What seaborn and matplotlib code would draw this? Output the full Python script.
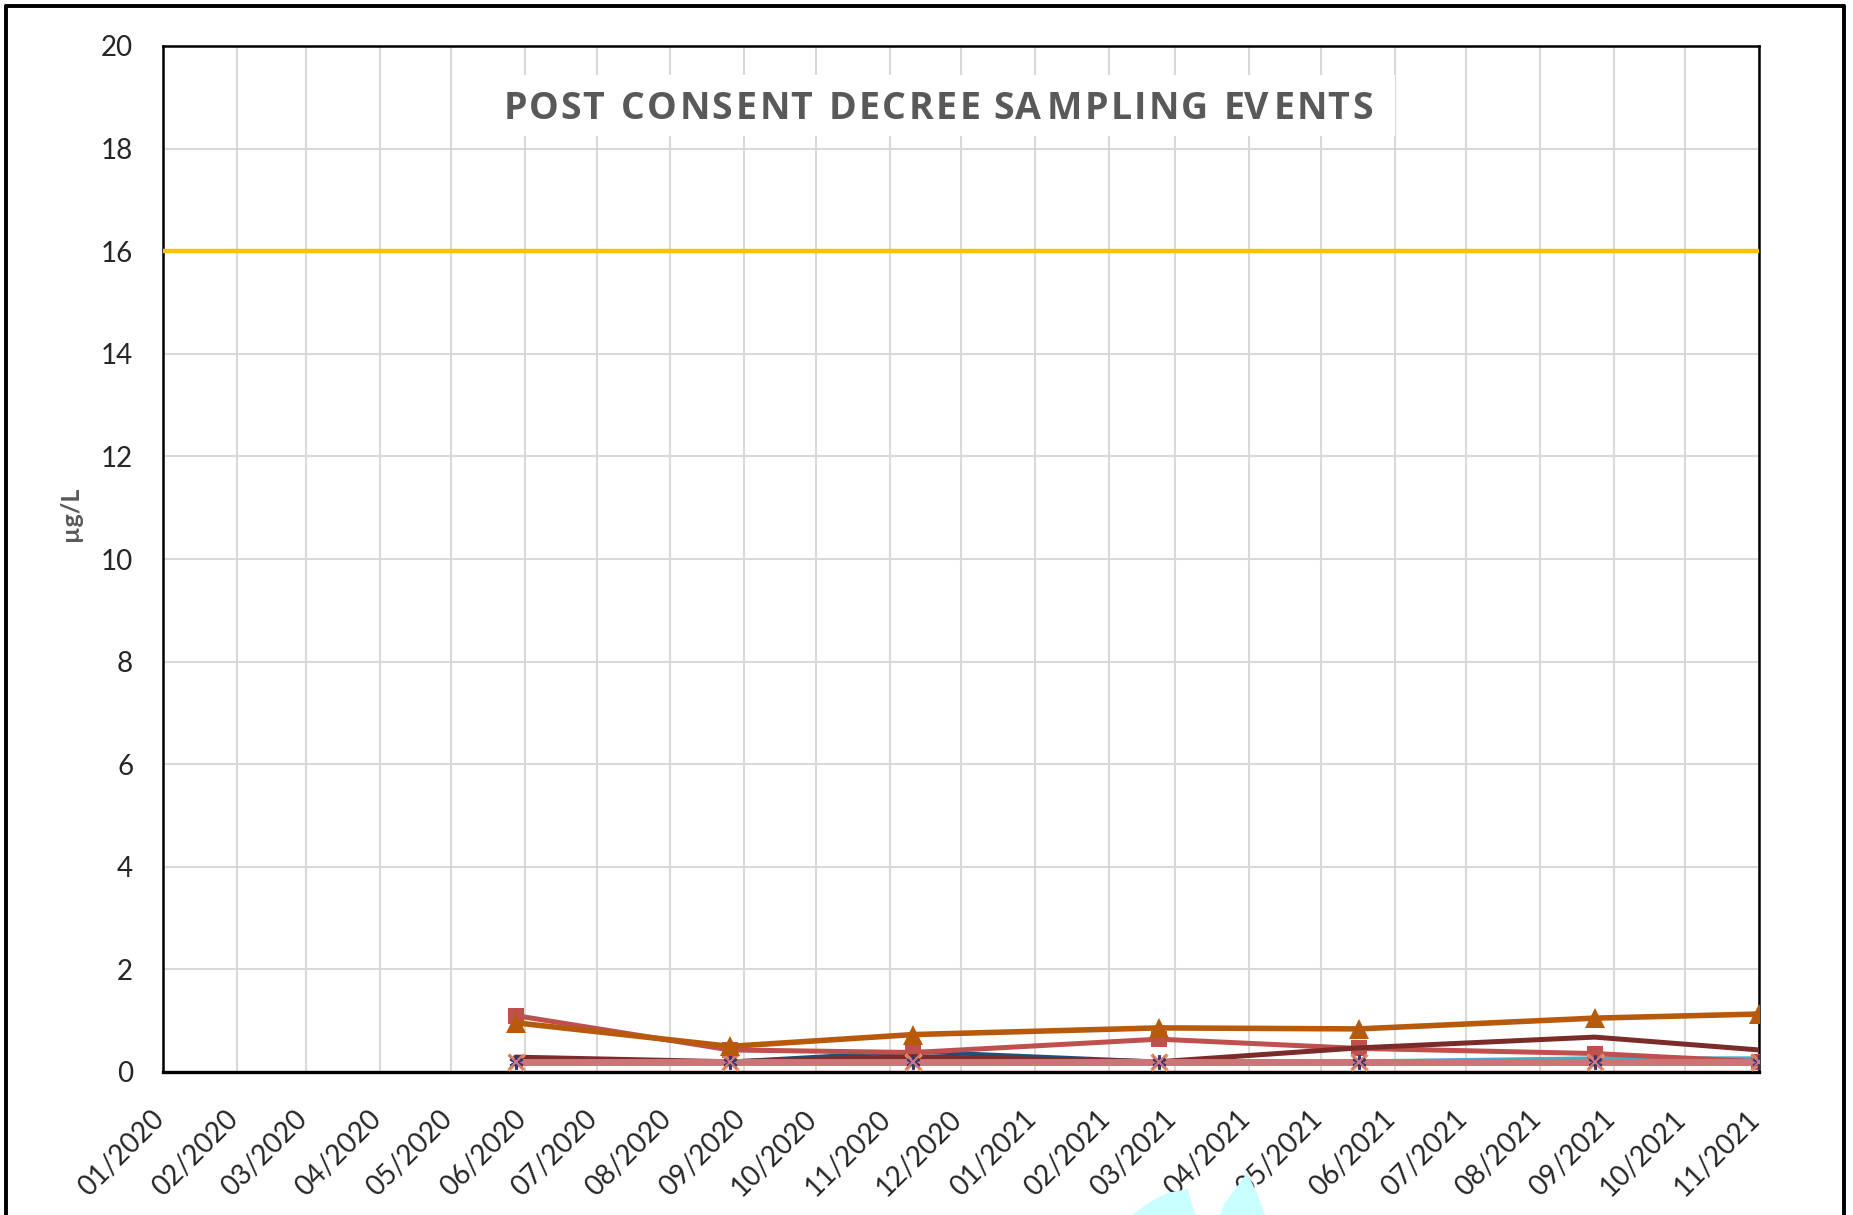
import pandas as pd
import numpy as np
import matplotlib
matplotlib.use("Agg")
import matplotlib.pyplot as plt
import matplotlib.dates as mdates
import matplotlib.transforms as mtransforms
from matplotlib import font_manager
from matplotlib.ft2font import FT2Font
from matplotlib.patches import Polygon, Rectangle
from matplotlib.lines import Line2D
import seaborn as sns


# sampling events
sample_dates = pd.to_datetime([
    "2020-05-28", "2020-08-26", "2020-11-11", "2021-02-22",
    "2021-05-17", "2021-08-24", "2021-11-01",
])

triangle_vals = [0.96, 0.50, 0.73, 0.86, 0.84, 1.05, 1.13]
square_vals = [1.10, 0.43, 0.38, 0.64, 0.46, 0.36, 0.20]
darkred_vals = [0.29, 0.20, 0.30, 0.20, 0.47, 0.68, 0.43]
darkblue_vals = [0.20, 0.20, 0.40, 0.20, 0.20, 0.20, 0.20]
lightblue_vals = [0.20, 0.20, 0.20, 0.20, 0.20, 0.26, 0.26]
star_vals = [0.20, 0.20, 0.20, 0.20, 0.20, 0.20, 0.20]
cross_vals = [0.20, 0.20, 0.20, 0.20, 0.20, 0.20, 0.20]
pink_vals = [0.20, 0.20, 0.20, 0.20, 0.20, 0.20, 0.20]

cleanup_level = 16
title_text = "POST CONSENT DECREE SAMPLING EVENTS"
y_label = "µg/L"

x_start = pd.Timestamp("2020-01-01")
x_end = pd.Timestamp("2021-11-01")


sns.set_style("white")
plt.rcParams["font.family"] = ["Lato", "DejaVu Sans"]

W, H = 1853, 1215
fig = plt.figure(figsize=(W / 100, H / 100), dpi=100)
ax = fig.add_axes([163 / W, 1 - 1072 / H, (1759 - 163) / W, (1072 - 46) / H])


def draw(vals, color, lw, z, marker=None, ms=0, mew=0):
    # seaborn puts a white edge on markers by default, so set it explicitly
    sns.lineplot(x=sample_dates, y=vals, ax=ax, color=color, linewidth=lw,
                 marker=marker, markersize=ms, markeredgewidth=mew,
                 markeredgecolor=color, zorder=z)


# series, drawn bottom to top
draw(lightblue_vals, "#4BACC6", 3.4, 3)
draw(darkblue_vals, "#1F4E79", 3.0, 3)
draw(square_vals, "#C0504D", 3.6, 4, marker="s", ms=12)
draw(darkred_vals, "#7B2C2A", 3.6, 4)
draw(pink_vals, "#CD7478", 5.0, 5)
draw(cross_vals, "#F79646", 0, 6, marker="x", ms=11, mew=2.5)
draw(star_vals, "#3F3566", 0, 6, marker=(6, 2, 0), ms=10, mew=2.2)
draw(pink_vals, "#C87A88", 0, 6, marker="x", ms=10, mew=1.5)
draw(triangle_vals, "#B85A0C", 4.0, 7, marker="^", ms=14)

ax.axhline(cleanup_level, color="#FFC000", linewidth=3.2, zorder=3)

# axes
ax.set_xlim(x_start, x_end)
ax.set_ylim(0, 20)
ax.xaxis.set_major_locator(mdates.MonthLocator())
ax.xaxis.set_major_formatter(mdates.DateFormatter("%m/%Y"))
ax.set_yticks(np.arange(0, 21, 2))
ax.set_yticks(np.arange(0, 20.1, 0.5), minor=True)

ax.grid(True, which="major", color="#D9D9D9", linewidth=1.5, zorder=0)
ax.set_axisbelow(True)

ax.tick_params(axis="y", which="both", direction="inout", length=11,
               width=1.5, color="black", labelsize=20, pad=16)
ax.tick_params(axis="x", which="major", direction="out", length=8,
               width=1.5, color="black", labelsize=20, pad=23)

shift = mtransforms.ScaledTranslation(-3 / 100, 0, fig.dpi_scale_trans)
for lab in ax.get_xticklabels():
    lab.set_rotation(45)
    lab.set_ha("right")
    lab.set_va("center")
    lab.set_rotation_mode("anchor")
    lab.set_transform(lab.get_transform() + shift)

for side in ["left", "top", "right"]:
    ax.spines[side].set_color("black")
    ax.spines[side].set_linewidth(1.8)
ax.spines["bottom"].set_color("black")
ax.spines["bottom"].set_linewidth(2.4)

ax.set_xlabel("")
ax.set_ylabel(y_label, fontsize=18, fontweight="bold", color="#595959")
ax.yaxis.set_label_coords(-0.051, 0.544)

# title box: white patch that breaks the gridlines
ax.add_patch(Rectangle((480 / W, 1 - 136 / H), (1395 - 480) / W, 61 / H,
                       transform=fig.transFigure, facecolor="white",
                       edgecolor="none", zorder=2, clip_on=False))

# title with letter spacing, laid out one glyph at a time
title_pt = 27
title_prop = font_manager.FontProperties(family="Open Sans", weight="bold",
                                         size=title_pt)
ft = FT2Font(font_manager.findfont(title_prop))
ft.set_size(title_pt, 72)
adv = [ft.load_char(ord(c)).linearHoriAdvance / 65536 for c in title_text]
bear = [ft.load_char(ord(c)).horiBearingX / 64 for c in title_text]
target_pt = 871 * 72 / 100
track = (target_pt - sum(adv)) / (len(title_text) - 1)
title_cx, title_base = 936 / W, 1 - 119 / H
pen = -target_pt / 2
for c, a, b in zip(title_text, adv, bear):
    if c != " ":
        off = mtransforms.ScaledTranslation((pen + b) / 72, 0,
                                            fig.dpi_scale_trans)
        fig.text(title_cx, title_base, c, transform=fig.transFigure + off,
                 ha="left", va="baseline", fontproperties=title_prop,
                 color="#595959", zorder=8)
    pen += a + track

# outer frame of the chart area
for xs, ys in [([6 / W, 6 / W], [0, 1 - 6 / H]),
               ([6 / W, 1844 / W], [1 - 6 / H, 1 - 6 / H]),
               ([1844 / W, 1844 / W], [1 - 6 / H, 0])]:
    fig.add_artist(Line2D(xs, ys, transform=fig.transFigure, color="black",
                          linewidth=2.8))

# cyan shapes peeking in at the bottom edge
blob1 = [(1132, 1215), (1150, 1202), (1167, 1193), (1188, 1189), (1195, 1215)]
blob2 = [(1220, 1215), (1225, 1203), (1247, 1173), (1257, 1193), (1265, 1215)]
for pts in [blob1, blob2]:
    fig.add_artist(Polygon([(x / W, 1 - y / H) for x, y in pts],
                           closed=True, transform=fig.transFigure,
                           facecolor="#C8FFFF", edgecolor="none"))

fig.savefig("out.png", dpi=100)
